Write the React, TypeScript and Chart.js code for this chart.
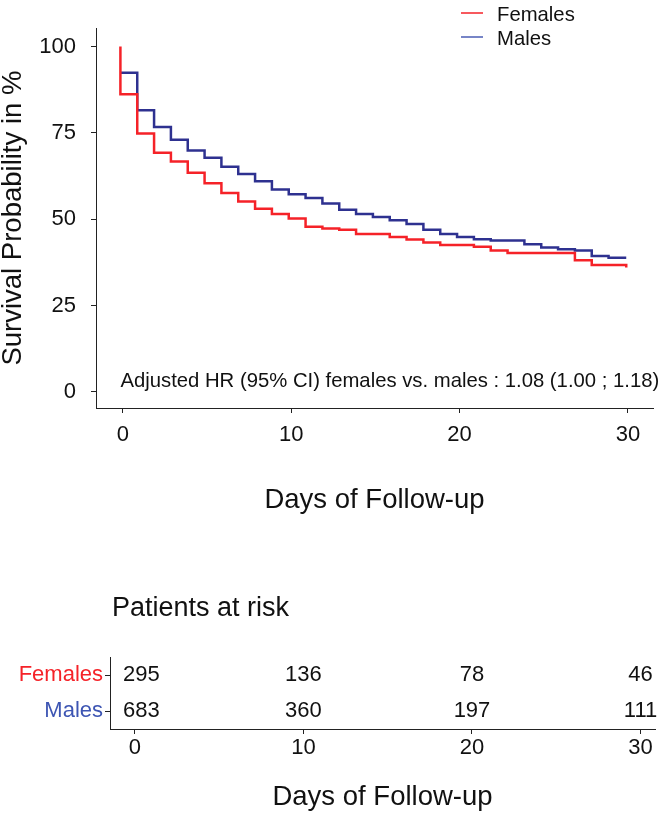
import React, { useEffect, useRef } from 'react';
import { Chart, registerables } from 'chart.js';

Chart.register(...registerables);

const FONT = "'Liberation Sans', Arial, Helvetica, sans-serif";

// ---- Survival curves (Kaplan-Meier steps) ----
const stepDays = [
  -0.15, 0.85, 1.85, 2.85, 3.85, 4.85, 5.85, 6.85, 7.85, 8.85,
  9.85, 10.85, 11.85, 12.85, 13.85, 14.85, 15.85, 16.85, 17.85, 18.85,
  19.85, 20.85, 21.85, 22.85, 23.85, 24.85, 25.85, 26.85, 27.85, 28.85,
  29.9,
];
const femaleStart = 100;
const femaleSurvival = [
  86.2, 74.8, 69.2, 66.7, 63.4, 60.4, 57.6, 55.1, 53.0, 51.5,
  50.2, 47.8, 47.3, 46.9, 45.7, 45.7, 44.8, 44.1, 43.2, 42.5,
  42.5, 42.0, 40.9, 40.2, 40.2, 40.2, 40.2, 38.1, 36.7, 36.7,
  36.0,
];
const maleSurvival = [
  92.4, 81.5, 76.7, 73.0, 69.9, 67.8, 65.2, 63.1, 61.0, 58.6,
  57.2, 56.1, 54.5, 52.7, 51.5, 50.6, 49.7, 48.6, 46.9, 45.7,
  44.8, 44.2, 43.8, 43.8, 42.7, 41.8, 41.3, 40.9, 39.3, 38.8,
  38.8,
];
const yTicks = [0, 25, 50, 75, 100];
const xTicks = [0, 10, 20, 30];
const seriesNames = ['Females', 'Males'];
const hrText = 'Adjusted HR (95% CI) females vs. males : 1.08 (1.00 ; 1.18)';

// ---- Patients at risk ----
const riskDays = [0, 10, 20, 30];
const femalesAtRisk = [295, 136, 78, 46];
const malesAtRisk = [683, 360, 197, 111];

const RED = '#F52228';
const NAVY = '#2E3190';
const BLUE = '#3D55B3';
const LEGEND_BLUE = '#4A5DB5';
const AXIS = '#222222';
const TEXT = '#111111';

const topOverlay = {
  id: 'topOverlay',
  afterDraw(chart: any) {
    const { ctx, chartArea, scales } = chart;
    ctx.save();
    // annotation
    ctx.font = `20.3px ${FONT}`;
    ctx.fillStyle = TEXT;
    ctx.textAlign = 'left';
    ctx.textBaseline = 'alphabetic';
    ctx.fillText(hrText, scales.x.getPixelForValue(-0.15), scales.y.getPixelForValue(1.4));
    // legend
    const colors = [RED, LEGEND_BLUE];
    const textX = chartArea.right - 156;
    seriesNames.forEach((name, i) => {
      const baseY = 20.5 + i * 24;
      const midY = baseY - 7.5;
      ctx.strokeStyle = colors[i];
      ctx.lineWidth = 1.5;
      ctx.beginPath();
      ctx.moveTo(textX - 36, midY);
      ctx.lineTo(textX - 14, midY);
      ctx.stroke();
      ctx.fillStyle = TEXT;
      ctx.fillText(name, textX, baseY);
    });
    ctx.restore();
  },
};

const riskOverlay = {
  id: 'riskOverlay',
  afterDatasetsDraw(chart: any) {
    const { ctx, chartArea } = chart;
    ctx.save();
    ctx.font = `22px ${FONT}`;
    ctx.fillStyle = TEXT;
    ctx.textAlign = 'center';
    ctx.textBaseline = 'middle';
    chart.data.datasets.forEach((ds: any, i: number) => {
      const meta = chart.getDatasetMeta(i);
      meta.data.forEach((el: any, j: number) => {
        const txt = String(ds.data[j].n);
        const w = ctx.measureText(txt).width;
        let cx = el.x;
        const minLeft = chartArea.left + 13;
        if (cx - w / 2 < minLeft) cx = minLeft + w / 2;
        ctx.fillText(txt, cx, el.y);
      });
    });
    ctx.font = `27px ${FONT}`;
    ctx.textAlign = 'left';
    ctx.textBaseline = 'alphabetic';
    ctx.fillText('Patients at risk', chartArea.left + 2, 56);
    ctx.restore();
  },
};

export default function App() {
  const topRef = useRef<HTMLCanvasElement>(null);
  const riskRef = useRef<HTMLCanvasElement>(null);

  useEffect(() => {
    document.body.style.margin = '0';
    const femalePts = [{ x: stepDays[0], y: femaleStart }].concat(
      stepDays.map((d, i) => ({ x: d, y: femaleSurvival[i] }))
    );
    const malePts = stepDays.map((d, i) => ({ x: d, y: maleSurvival[i] }));

    const axisGrid = {
      drawOnChartArea: false,
      drawTicks: true,
      tickLength: 5,
      color: AXIS,
      tickColor: AXIS,
      lineWidth: 1,
    };
    const axisBorder = { display: true, color: AXIS, width: 1 };

    const top = new Chart(topRef.current as HTMLCanvasElement, {
      type: 'line',
      data: {
        datasets: [
          {
            label: seriesNames[0],
            data: femalePts,
            borderColor: RED,
            borderWidth: 2.5,
            stepped: 'before',
            pointRadius: 0,
            fill: false,
          },
          {
            label: seriesNames[1],
            data: malePts,
            borderColor: NAVY,
            borderWidth: 2.5,
            stepped: 'before',
            pointRadius: 0,
            fill: false,
          },
        ],
      },
      options: {
        animation: false,
        responsive: false,
        maintainAspectRatio: false,
        events: [],
        layout: { padding: { top: 12, right: 16, bottom: 0, left: 0 }, autoPadding: false },
        plugins: { legend: { display: false }, tooltip: { enabled: false } },
        scales: {
          x: {
            type: 'linear',
            min: -1.6,
            max: 31.49,
            afterBuildTicks: (s: any) => {
              s.ticks = xTicks.map((v) => ({ value: v }));
            },
            afterFit: (s: any) => {
              s.height = 152;
            },
            grid: axisGrid,
            border: axisBorder,
            ticks: {
              font: { family: FONT, size: 22 },
              color: TEXT,
              padding: 9,
              maxRotation: 0,
              autoSkip: false,
            },
            title: {
              display: true,
              text: 'Days of Follow-up',
              font: { family: FONT, size: 27.5 },
              color: TEXT,
              padding: { top: 0, bottom: 43 },
            },
          },
          y: {
            type: 'linear',
            min: -4.7,
            max: 105.3,
            afterBuildTicks: (s: any) => {
              s.ticks = yTicks.map((v) => ({ value: v }));
            },
            afterFit: (s: any) => {
              s.width = 96;
            },
            grid: axisGrid,
            border: axisBorder,
            ticks: {
              font: { family: FONT, size: 22 },
              color: TEXT,
              padding: 15,
            },
            title: {
              display: true,
              text: 'Survival Probability in %',
              font: { family: FONT, size: 27.5, lineHeight: 1 },
              color: TEXT,
              padding: { top: 0, bottom: 0 },
            },
          },
        },
      },
      plugins: [topOverlay],
    } as any);

    const risk = new Chart(riskRef.current as HTMLCanvasElement, {
      type: 'scatter',
      data: {
        datasets: [
          {
            label: seriesNames[0],
            data: riskDays.map((d, i) => ({ x: d, y: seriesNames[0], n: femalesAtRisk[i] })),
            pointRadius: 0,
            showLine: false,
          },
          {
            label: seriesNames[1],
            data: riskDays.map((d, i) => ({ x: d, y: seriesNames[1], n: malesAtRisk[i] })),
            pointRadius: 0,
            showLine: false,
          },
        ],
      },
      options: {
        animation: false,
        responsive: false,
        maintainAspectRatio: false,
        events: [],
        layout: { padding: { top: 97, right: 14, bottom: 0, left: 0 }, autoPadding: false },
        plugins: { legend: { display: false }, tooltip: { enabled: false } },
        scales: {
          x: {
            type: 'linear',
            min: -1.48,
            max: 30.86,
            afterBuildTicks: (s: any) => {
              s.ticks = riskDays.map((v) => ({ value: v }));
            },
            afterFit: (s: any) => {
              s.height = 87;
            },
            grid: axisGrid,
            border: axisBorder,
            ticks: {
              font: { family: FONT, size: 22 },
              color: TEXT,
              padding: 1,
              maxRotation: 0,
              autoSkip: false,
            },
            title: {
              display: true,
              text: 'Days of Follow-up',
              font: { family: FONT, size: 27.5 },
              color: TEXT,
              padding: { top: 0, bottom: 2 },
            },
          },
          y: {
            type: 'category',
            labels: seriesNames,
            offset: true,
            afterFit: (s: any) => {
              s.width = 110;
            },
            grid: { ...axisGrid, offset: false },
            border: axisBorder,
            ticks: {
              font: { family: FONT, size: 22 },
              color: (c: any) => (c.index === 0 ? RED : BLUE),
              padding: 2,
            },
          },
        },
      },
      plugins: [riskOverlay],
    } as any);

    return () => {
      top.destroy();
      risk.destroy();
    };
  }, []);

  return (
    <div style={{ position: 'relative', width: 669, height: 816, background: '#ffffff' }}>
      <canvas
        ref={topRef}
        width={669}
        height={560}
        style={{ position: 'absolute', left: 0, top: 0, width: 669, height: 560 }}
      />
      <canvas
        ref={riskRef}
        width={669}
        height={256}
        style={{ position: 'absolute', left: 0, top: 560, width: 669, height: 256 }}
      />
    </div>
  );
}
